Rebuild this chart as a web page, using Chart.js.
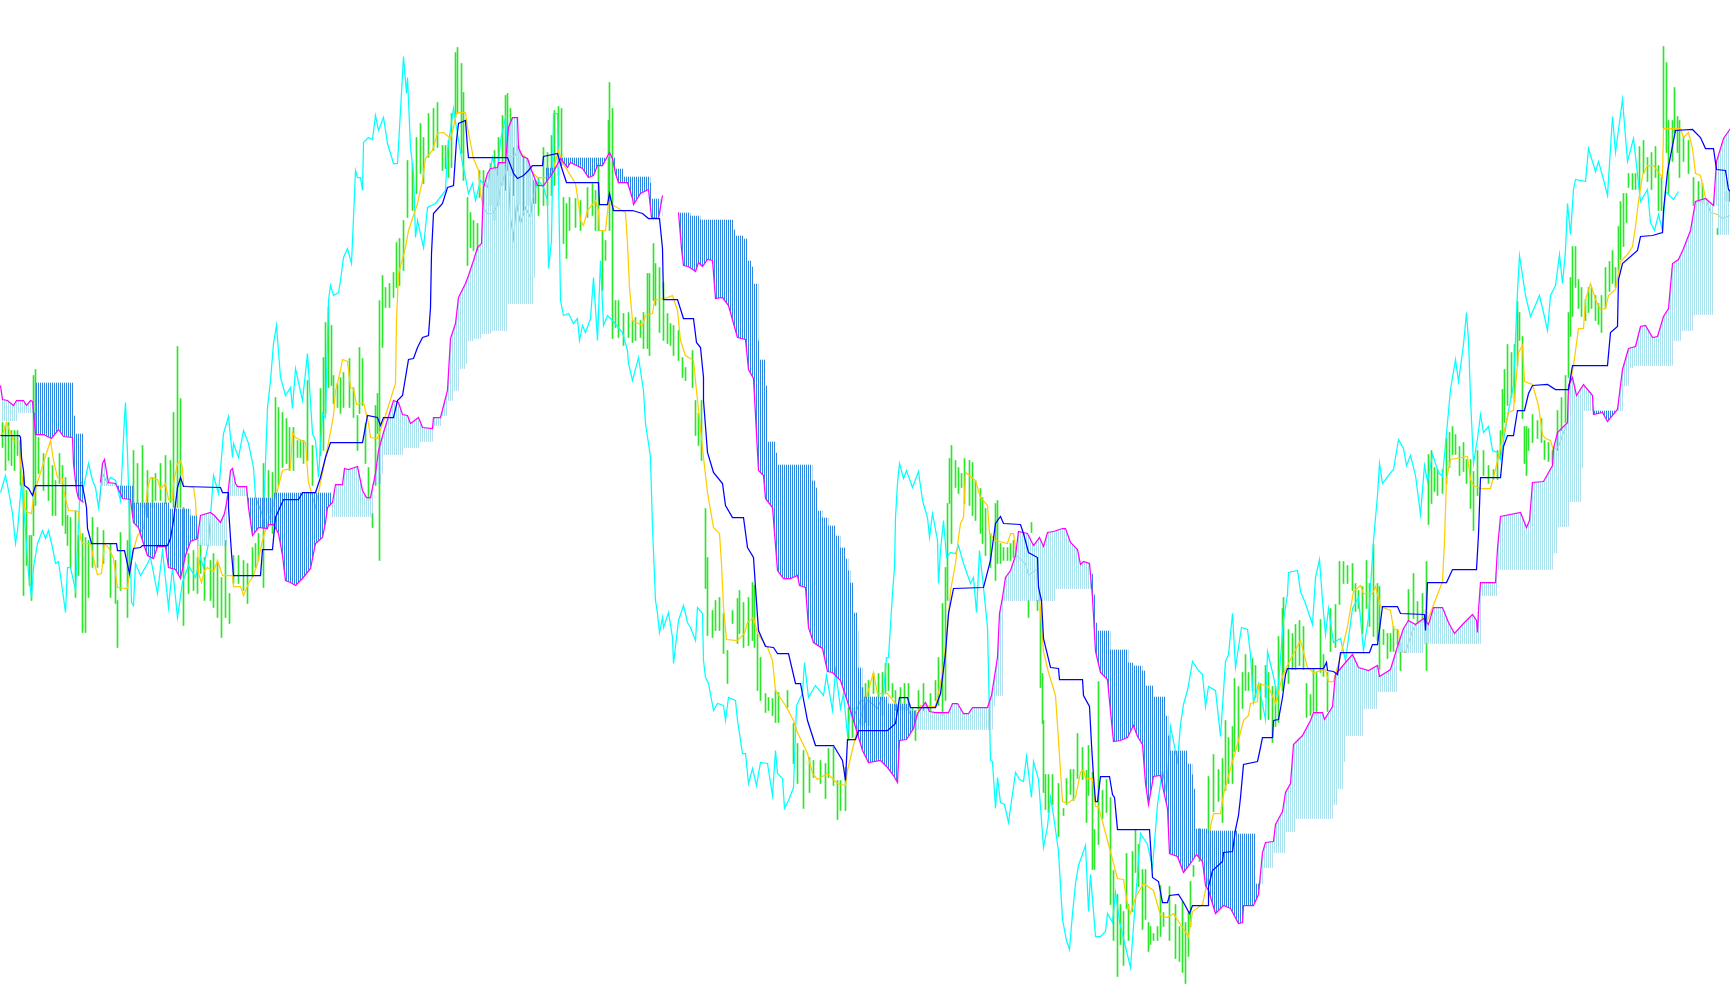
<!DOCTYPE html>
<html>
<head>
<meta charset="utf-8">
<title>Ichimoku</title>
<script src="https://cdn.jsdelivr.net/npm/chart.js"></script>
<style>
html, body { margin: 0; padding: 0; background: #fff; overflow: hidden; }
canvas { display: block; }
</style>
</head>
<body>
<canvas id="chart" width="1730" height="1005"></canvas>
<script>
// [time, value] pairs
const kijun = [[0,570],[19,570],[20,568],[21,548],[23,535],[24,520],[28,517],[32,510],[35,520],[82,520],[86,498],[87,477],[91,462],[116,462],[117,455],[124,455],[129,432],[133,457],[140,458],[142,460],[167,460],[170,467],[173,485],[177,518],[180,528],[183,519],[220,518],[222,513],[228,513],[228,498],[231,452],[233,430],[260,430],[262,456],[272,456],[275,488],[283,506],[298,506],[302,513],[315,513],[320,528],[325,548],[330,563],[362,563],[367,590],[377,588],[380,580],[383,588],[393,588],[397,605],[402,610],[408,646],[413,647],[417,658],[422,668],[428,670],[430,698],[431,752],[433,792],[442,802],[447,818],[453,820],[456,865],[458,882],[465,885],[467,858],[468,848],[507,848],[512,835],[513,832],[517,827],[523,830],[528,835],[532,840],[542,840],[543,849],[557,852],[562,835],[566,823],[598,823],[599,801],[607,801],[609,812],[613,795],[632,795],[642,792],[648,787],[659,787],[662,757],[663,706],[677,706],[683,687],[693,687],[696,663],[700,658],[703,628],[703,605],[707,553],[713,533],[722,522],[725,500],[732,488],[743,488],[747,458],[753,448],[755,418],[758,375],[765,359],[773,358],[777,352],[788,352],[795,322],[800,322],[807,285],[815,260],[833,260],[842,245],[845,225],[847,266],[855,266],[858,275],[887,275],[895,282],[899,308],[907,308],[910,298],[935,298],[940,312],[945,352],[948,392],[953,417],[983,418],[990,445],[995,482],[1000,489],[1003,482],[1020,481],[1023,472],[1028,453],[1037,448],[1038,418],[1041,405],[1043,367],[1050,338],[1058,337],[1059,326],[1082,326],[1083,310],[1089,299],[1091,261],[1093,229],[1095,204],[1097,204],[1100,229],[1109,229],[1112,211],[1114,208],[1117,176],[1149,176],[1152,128],[1158,124],[1162,103],[1167,103],[1169,110],[1178,111],[1183,103],[1189,92],[1192,100],[1208,100],[1208,119],[1212,135],[1222,144],[1223,153],[1232,154],[1235,176],[1238,190],[1240,208],[1243,241],[1257,244],[1260,258],[1262,268],[1272,268],[1273,285],[1278,286],[1282,308],[1285,331],[1287,337],[1323,337],[1326,343],[1327,335],[1333,334],[1337,331],[1340,353],[1369,353],[1372,361],[1377,361],[1382,399],[1397,399],[1400,392],[1424,391],[1425,375],[1427,423],[1446,423],[1452,436],[1476,436],[1478,471],[1480,528],[1500,528],[1503,559],[1507,570],[1513,570],[1517,595],[1524,595],[1528,612],[1532,620],[1547,621],[1555,616],[1568,616],[1572,640],[1607,640],[1610,673],[1617,679],[1618,726],[1622,742],[1637,755],[1640,769],[1652,770],[1662,773],[1663,795],[1667,834],[1675,875],[1692,876],[1700,868],[1705,857],[1713,857],[1716,836],[1725,835],[1728,816],[1730,814]];

const tenkan = [[0,570],[3,573],[6,583],[8,578],[13,565],[19,564],[20,542],[23,518],[24,498],[26,494],[31,492],[33,508],[36,520],[50,565],[53,545],[57,528],[62,527],[63,515],[68,495],[78,494],[80,467],[82,462],[90,462],[95,438],[97,431],[101,432],[104,462],[108,458],[113,447],[115,432],[117,418],[127,417],[128,425],[132,452],[137,470],[143,477],[147,517],[150,528],[157,526],[160,517],[165,522],[168,506],[172,506],[173,522],[177,542],[180,544],[182,538],[183,520],[193,518],[195,505],[197,465],[198,432],[201,423],[204,435],[207,438],[213,434],[217,445],[222,430],[232,430],[233,419],[240,419],[243,410],[248,422],[253,430],[257,442],[262,465],[275,508],[282,535],[290,537],[292,573],[295,568],[305,563],[307,535],[308,523],[315,498],[328,563],[333,590],[335,615],[340,635],[342,646],[347,644],[350,618],[353,617],[356,601],[363,603],[368,582],[370,568],[377,567],[385,590],[395,622],[396,685],[398,732],[405,758],[408,775],[413,790],[417,802],[422,825],[425,847],[432,855],[437,872],[443,873],[450,867],[453,878],[456,893],[465,893],[467,878],[473,847],[478,835],[480,812],[483,797],[487,792],[492,792],[497,800],[500,818],[505,833],[507,848],[515,850],[517,858],[520,852],[527,847],[530,835],[537,828],[547,828],[553,837],[558,855],[562,843],[575,822],[578,802],[580,785],[583,780],[587,795],[595,805],[598,795],[599,775],[605,775],[608,803],[625,793],[627,762],[629,718],[632,685],[642,680],[645,690],[652,692],[654,705],[667,708],[672,710],[677,695],[680,665],[685,650],[693,645],[696,615],[703,548],[707,513],[713,478],[719,472],[721,442],[723,398],[726,366],[737,365],[744,372],[747,383],[753,388],[757,372],[767,358],[772,345],[775,315],[785,300],[793,285],[797,273],[807,252],[812,232],[817,226],[827,232],[837,222],[845,220],[847,235],[857,277],[865,305],[873,333],[877,312],[887,312],[898,298],[907,297],[912,287],[915,285],[920,300],[935,299],[942,332],[947,378],[950,415],[955,442],[958,468],[960,482],[963,488],[965,533],[975,525],[980,508],[987,500],[989,472],[995,465],[1007,462],[1010,472],[1013,472],[1016,450],[1025,442],[1028,430],[1037,437],[1039,408],[1043,354],[1048,333],[1055,310],[1058,265],[1062,204],[1067,202],[1075,208],[1080,233],[1083,236],[1085,227],[1092,227],[1095,199],[1098,199],[1117,127],[1123,126],[1127,101],[1130,92],[1135,108],[1143,122],[1153,115],[1160,90],[1167,88],[1173,92],[1180,81],[1188,69],[1192,94],[1202,101],[1208,129],[1210,179],[1213,192],[1220,192],[1223,211],[1232,244],[1235,254],[1243,285],[1248,290],[1250,302],[1257,304],[1258,322],[1268,319],[1275,302],[1282,329],[1285,336],[1293,352],[1300,365],[1307,338],[1313,333],[1325,336],[1328,324],[1333,324],[1340,349],[1347,379],[1353,414],[1360,420],[1363,412],[1372,412],[1375,419],[1380,399],[1390,395],[1393,377],[1398,375],[1400,355],[1405,353],[1412,375],[1417,383],[1423,387],[1427,385],[1442,424],[1444,465],[1446,526],[1450,546],[1467,549],[1470,526],[1473,520],[1480,517],[1490,517],[1495,536],[1502,567],[1508,593],[1513,595],[1518,653],[1522,660],[1524,624],[1532,621],[1538,600],[1542,571],[1545,567],[1550,565],[1553,555],[1558,559],[1563,573],[1567,583],[1568,612],[1573,640],[1578,677],[1583,677],[1585,706],[1590,722],[1595,706],[1600,696],[1605,697],[1608,710],[1615,716],[1620,744],[1627,751],[1632,759],[1635,779],[1638,804],[1642,830],[1647,840],[1653,840],[1662,828],[1663,877],[1680,877],[1683,868],[1688,873],[1692,857],[1695,832],[1700,830],[1705,808],[1710,793],[1717,791],[1722,787],[1730,790]];

const chikou = [[0,513],[5,530],[8,515],[12,492],[15,462],[17,475],[21,523],[24,488],[28,432],[31,408],[33,438],[37,462],[42,475],[45,467],[48,475],[52,458],[55,442],[58,444],[62,415],[65,393],[67,438],[70,438],[75,415],[80,525],[83,518],[88,542],[92,525],[95,518],[98,498],[102,532],[107,522],[110,528],[115,525],[120,505],[124,588],[125,603],[127,552],[129,485],[131,403],[133,400],[135,442],[140,430],[147,442],[150,448],[157,412],[162,455],[168,398],[172,438],[177,388],[182,423],[188,440],[195,428],[200,448],[203,438],[208,462],[213,530],[218,512],[223,572],[228,589],[232,548],[233,562],[238,548],[243,575],[248,562],[253,538],[255,508],[263,488],[267,598],[270,625],[273,662],[276,680],[280,628],[285,610],[290,618],[292,597],[295,637],[302,605],[307,652],[312,572],[315,565],[318,528],[322,592],[325,588],[328,705],[330,720],[333,710],[338,713],[340,725],[343,748],[347,757],[351,742],[353,788],[355,835],[357,828],[360,828],[362,815],[363,863],[368,868],[372,866],[375,890],[378,875],[383,888],[387,862],[393,842],[397,842],[400,895],[403,949],[406,912],[407,928],[410,858],[413,832],[415,768],[417,785],[423,758],[427,798],[435,802],[445,815],[447,855],[453,897],[458,865],[462,842],[465,828],[468,812],[472,822],[475,805],[480,825],[487,818],[492,848],[497,832],[500,865],[505,888],[507,852],[510,788],[513,767],[516,802],[520,782],[525,798],[530,788],[532,807],[536,820],[538,825],[543,818],[547,805],[548,737],[551,765],[553,892],[557,892],[560,705],[563,690],[568,692],[573,682],[577,687],[579,665],[582,680],[585,673],[590,687],[593,728],[597,665],[600,745],[603,680],[607,690],[612,685],[622,673],[627,655],[628,642],[632,625],[638,648],[643,615],[645,582],[648,562],[650,548],[652,478],[655,405],[657,392],[659,373],[662,388],[663,378],[668,393],[672,368],[673,342],[678,385],[683,400],[687,383],[690,378],[695,365],[697,398],[702,392],[703,345],[705,328],[708,322],[713,295],[717,302],[723,300],[725,285],[728,308],[735,305],[737,285],[742,252],[745,252],[748,222],[752,237],[756,220],[760,243],[767,242],[772,210],[775,255],[777,232],[782,227],[784,197],[788,205],[793,218],[796,300],[802,312],[804,343],[808,308],[815,320],[823,310],[826,330],[832,295],[835,335],[840,297],[843,312],[847,270],[850,295],[853,288],[860,305],[868,305],[877,297],[883,312],[886,348],[888,348],[892,412],[894,438],[895,488],[897,522],[899,542],[903,527],[906,535],[912,518],[918,534],[922,505],[927,488],[929,468],[932,492],[937,465],[938,422],[940,455],[943,485],[946,448],[950,453],[955,452],[958,460],[963,442],[970,422],[973,428],[976,393],[979,455],[983,418],[987,378],[990,245],[992,244],[995,197],[997,228],[1000,203],[1004,201],[1008,183],[1015,233],[1019,226],[1023,224],[1026,249],[1031,208],[1033,244],[1038,226],[1043,158],[1047,179],[1050,208],[1053,190],[1058,154],[1062,86],[1066,65],[1069,56],[1072,92],[1075,122],[1078,140],[1085,160],[1088,94],[1090,131],[1095,69],[1100,69],[1105,74],[1107,92],[1112,83],[1115,113],[1119,84],[1123,67],[1130,38],[1133,79],[1140,172],[1147,161],[1152,138],[1157,201],[1162,235],[1166,213],[1170,279],[1177,244],[1180,281],[1183,301],[1187,315],[1192,344],[1198,335],[1202,331],[1205,299],[1208,319],[1215,315],[1220,269],[1225,344],[1228,351],[1232,392],[1235,338],[1241,378],[1247,376],[1250,351],[1253,303],[1258,322],[1265,286],[1267,354],[1273,329],[1277,308],[1283,386],[1287,411],[1288,433],[1297,435],[1300,414],[1305,402],[1312,381],[1315,428],[1319,446],[1322,405],[1325,371],[1328,397],[1333,363],[1340,367],[1345,345],[1352,397],[1358,408],[1363,355],[1368,388],[1373,465],[1377,510],[1379,542],[1382,522],[1388,530],[1393,536],[1398,566],[1403,557],[1406,540],[1410,550],[1415,530],[1420,491],[1424,540],[1427,524],[1432,551],[1438,533],[1442,529],[1447,583],[1450,616],[1455,646],[1458,624],[1463,661],[1466,693],[1468,665],[1470,608],[1473,542],[1477,567],[1480,591],[1483,573],[1488,579],[1492,555],[1497,553],[1500,546],[1508,595],[1513,620],[1517,714],[1519,750],[1525,710],[1530,689],[1539,710],[1543,693],[1547,675],[1550,710],[1555,720],[1559,751],[1562,722],[1565,755],[1567,802],[1570,771],[1573,816],[1575,826],[1585,824],[1588,857],[1595,834],[1598,844],[1603,826],[1607,810],[1612,889],[1615,853],[1622,906],[1627,844],[1633,867],[1640,804],[1647,816],[1650,783],[1654,775],[1658,791],[1662,775],[1665,814],[1673,806],[1678,814]];

const senkouB = [[0,620],[2,606],[7,605],[13,600],[16,605],[23,605],[26,600],[30,605],[32,604],[33,593],[35,571],[43,571],[51,567],[58,576],[63,569],[72,568],[73,542],[76,515],[78,507],[83,503],[84,null],[100,523],[102,542],[104,546],[107,528],[108,523],[115,522],[120,512],[122,507],[130,506],[133,483],[138,478],[142,465],[147,450],[153,447],[157,459],[165,459],[168,438],[175,436],[180,427],[185,450],[190,464],[197,467],[200,490],[210,493],[214,490],[220,483],[224,492],[227,508],[230,535],[232,537],[235,522],[237,519],[246,519],[248,498],[252,470],[258,478],[267,477],[268,481],[273,481],[278,472],[282,450],[285,425],[290,423],[295,420],[302,427],[310,437],[315,462],[322,468],[325,483],[327,498],[332,503],[335,521],[342,521],[344,537],[348,536],[357,539],[362,515],[366,508],[370,508],[375,532],[378,555],[383,573],[393,605],[398,603],[402,591],[407,590],[410,582],[418,588],[422,578],[432,577],[433,588],[440,588],[447,615],[450,667],[455,682],[458,708],[465,722],[468,730],[473,745],[477,758],[481,762],[483,818],[487,832],[490,837],[497,838],[498,843],[505,843],[508,878],[512,888],[517,888],[518,858],[522,849],[527,847],[530,838],[537,820],[543,820],[552,832],[560,847],[567,838],[570,843],[582,837],[588,828],[593,830],[597,840],[602,840],[609,853],[612,847],[615,832],[618,823],[627,823],[632,807],[633,801],[640,812],[648,816],[651,788],[658,787],[662,810],[664,null],[678,793],[681,757],[683,740],[688,739],[695,734],[698,743],[702,739],[707,746],[712,745],[715,707],[722,708],[728,700],[735,675],[737,668],[745,666],[748,636],[753,627],[758,535],[763,530],[765,507],[772,498],[777,435],[783,427],[790,427],[797,430],[799,420],[805,418],[808,378],[813,363],[822,357],[827,334],[832,333],[840,325],[845,310],[853,285],[862,255],[868,243],[880,245],[887,238],[893,230],[897,223],[899,265],[906,266],[913,277],[917,292],[925,303],[929,294],[935,293],[948,293],[952,302],[957,302],[963,292],[968,292],[972,298],[987,298],[991,310],[997,348],[999,392],[1002,408],[1005,428],[1010,435],[1015,450],[1018,474],[1027,472],[1033,460],[1039,468],[1043,459],[1047,473],[1053,474],[1062,477],[1065,477],[1070,463],[1077,456],[1080,441],[1083,444],[1089,442],[1092,408],[1095,354],[1100,333],[1107,326],[1110,294],[1113,264],[1120,265],[1127,268],[1133,280],[1137,269],[1142,261],[1145,222],[1148,201],[1153,229],[1160,230],[1163,215],[1167,197],[1169,152],[1177,149],[1183,133],[1190,142],[1196,151],[1202,144],[1205,120],[1208,115],[1215,92],[1223,100],[1230,97],[1238,82],[1242,83],[1243,100],[1253,100],[1258,111],[1262,153],[1265,163],[1273,164],[1275,181],[1282,194],[1285,213],[1290,222],[1293,261],[1302,270],[1310,285],[1313,293],[1322,293],[1324,286],[1332,299],[1335,331],[1345,343],[1352,351],[1358,338],[1368,335],[1377,340],[1379,329],[1390,336],[1397,359],[1403,377],[1408,385],[1415,381],[1423,387],[1428,381],[1433,398],[1442,398],[1448,383],[1454,372],[1463,382],[1472,391],[1476,385],[1477,373],[1478,395],[1480,423],[1495,423],[1497,457],[1500,489],[1520,493],[1526,478],[1529,485],[1532,523],[1543,524],[1552,540],[1553,557],[1557,573],[1567,583],[1568,620],[1572,628],[1576,610],[1583,621],[1592,610],[1593,591],[1602,593],[1607,584],[1617,596],[1622,636],[1628,657],[1635,659],[1640,679],[1645,680],[1652,668],[1657,669],[1663,689],[1668,697],[1672,742],[1678,746],[1683,757],[1690,775],[1695,804],[1705,807],[1713,800],[1716,844],[1723,867],[1730,877]];

const senkouA = [[0,585],[17,593],[35,623],[73,590],[75,572],[84,565],[87,520],[133,503],[169,497],[190,490],[197,460],[226,510],[247,508],[273,513],[331,489],[372,522],[380,532],[382,551],[402,558],[419,564],[432,580],[441,590],[447,605],[452,615],[458,637],[465,642],[467,665],[473,667],[480,672],[490,675],[507,702],[533,728],[535,820],[545,838],[560,848],[610,848],[615,837],[623,829],[650,823],[651,807],[660,793],[690,790],[700,786],[733,776],[735,770],[743,767],[747,745],[751,739],[753,722],[758,665],[759,646],[765,620],[767,564],[775,553],[777,541],[812,525],[815,518],[817,495],[822,488],[828,480],[835,470],[840,458],[845,447],[848,435],[850,423],[853,393],[857,375],[858,338],[862,318],[863,309],[888,302],[910,295],[915,276],[992,300],[995,310],[1002,405],[1055,417],[1091,432],[1093,411],[1095,383],[1097,375],[1110,356],[1128,343],[1133,340],[1142,335],[1145,320],[1153,309],[1165,290],[1168,270],[1170,255],[1187,242],[1192,231],[1193,217],[1195,177],[1208,175],[1237,172],[1255,122],[1263,138],[1272,153],[1285,174],[1295,187],[1332,201],[1337,217],[1343,244],[1345,270],[1362,297],[1377,314],[1396,353],[1423,362],[1480,410],[1497,436],[1552,453],[1557,479],[1568,504],[1581,538],[1583,595],[1618,595],[1623,620],[1628,638],[1633,640],[1672,665],[1680,675],[1692,691],[1713,800],[1717,771],[1730,790]];

// [time, high, low]
const priceBars = [[2,583,558],[5,580,535],[8,583,545],[11,575,540],[14,575,535],[17,575,550],[20,565,520],[23,528,410],[26,515,440],[29,470,420],[31,470,405],[33,630,470],[35,636,500],[38,568,532],[43,552,515],[48,548,505],[52,540,490],[55,525,490],[59,552,522],[62,540,480],[65,528,472],[67,490,460],[70,488,438],[75,495,408],[78,470,430],[82,472,373],[85,468,373],[88,465,408],[92,488,438],[97,478,438],[103,475,442],[110,462,408],[115,445,402],[117,405,358],[120,473,415],[127,465,388],[129,505,428],[133,555,488],[137,542,502],[142,560,498],[147,535,488],[152,528,498],[155,532,505],[160,542,505],[165,550,502],[170,545,503],[173,593,498],[177,659,498],[180,607,498],[183,498,380],[188,452,412],[193,455,415],[197,448,412],[200,462,432],[204,448,405],[210,445,405],[213,452,398],[217,442,388],[221,428,368],[225,465,388],[229,412,382],[233,450,422],[238,450,422],[243,445,415],[247,442,402],[252,458,428],[255,462,438],[258,472,445],[263,542,418],[268,535,492],[272,533,472],[275,608,508],[278,598,520],[282,593,538],[286,587,542],[289,578,535],[293,578,535],[297,565,548],[300,565,548],[303,565,542],[307,625,545],[312,560,520],[320,617,550],[323,648,555],[325,683,592],[328,698,618],[331,680,620],[333,630,602],[337,622,598],[340,628,592],[343,633,598],[349,647,598],[353,618,588],[357,590,555],[359,658,592],[362,647,600],[365,582,542],[368,538,505],[372,492,478],[375,600,520],[377,612,572],[379,705,445],[382,730,658],[385,718,698],[389,722,698],[393,733,708],[396,763,718],[399,767,720],[403,785,735],[407,845,788],[412,842,795],[416,868,812],[420,882,832],[423,868,822],[428,892,848],[433,897,855],[437,903,858],[442,860,835],[445,860,837],[448,865,828],[451,892,838],[455,953,888],[457,958,892],[461,942,852],[463,913,825],[467,808,740],[470,793,758],[473,785,755],[477,782,755],[479,835,808],[483,835,800],[490,842,800],[494,855,785],[498,868,800],[502,890,820],[505,910,815],[507,912,835],[510,897,830],[513,858,810],[518,860,800],[523,850,795],[528,845,800],[533,825,802],[535,825,802],[538,828,790],[543,858,800],[547,853,800],[551,870,810],[554,895,820],[558,899,830],[561,897,840],[563,808,762],[566,802,747],[569,808,775],[575,807,778],[580,805,775],[587,818,788],[592,822,790],[595,815,775],[598,842,775],[602,775,715],[605,765,745],[608,885,805],[609,923,775],[612,897,667],[615,705,678],[618,705,668],[623,692,660],[628,693,668],[632,685,663],[635,688,665],[640,685,668],[643,693,657],[647,732,657],[649,732,650],[653,762,705],[655,742,700],[659,738,673],[663,723,665],[667,692,662],[670,682,660],[673,680,650],[678,675,645],[682,648,628],[685,638,625],[692,655,618],[695,605,570],[698,592,560],[701,605,545],[705,497,417],[707,448,370],[712,395,368],[715,405,375],[719,408,375],[723,392,352],[727,355,322],[732,395,382],[737,407,362],[739,415,372],[743,403,358],[748,408,360],[752,423,365],[754,420,358],[757,372,315],[760,348,305],[765,312,293],[768,308,295],[772,307,290],[775,315,283],[778,313,283],[787,315,298],[793,282,242],[797,262,222],[803,255,197],[809,248,213],[813,245,228],[820,245,222],[825,242,207],[828,257,228],[833,258,220],[837,225,186],[840,225,195],[845,238,195],[848,298,265],[852,298,268],[862,318,280],[865,322,283],[868,325,280],[873,332,312],[878,332,308],[882,333,290],[885,342,313],[888,342,315],[892,322,308],[895,315,295],[900,318,295],[904,322,295],[908,322,295],[912,298,275],[915,295,265],[918,315,295],[923,322,295],[930,312,295],[935,325,305],[938,348,300],[942,402,290],[945,438,305],[947,502,405],[949,547,502],[951,560,462],[955,545,518],[958,538,512],[961,532,518],[964,547,502],[969,545,500],[972,543,490],[975,525,485],[980,517,472],[982,508,462],[985,497,450],[990,472,438],[995,502,425],[997,505,442],[1000,462,442],[1003,458,445],[1007,458,445],[1010,462,445],[1013,465,448],[1028,405,388],[1031,483,473],[1037,405,395],[1040,398,318],[1042,332,282],[1043,285,213],[1045,231,196],[1048,231,193],[1052,231,201],[1058,222,169],[1063,197,190],[1066,227,201],[1070,236,211],[1073,236,205],[1077,272,227],[1082,258,226],[1086,235,183],[1088,260,210],[1092,233,136],[1094,176,136],[1098,324,161],[1102,215,187],[1106,226,193],[1110,208,101],[1113,135,65],[1117,111,29],[1120,101,61],[1123,94,40],[1126,152,97],[1128,101,65],[1132,154,94],[1135,176,133],[1138,161,119],[1142,136,76],[1145,136,86],[1148,83,54],[1150,79,61],[1153,72,65],[1157,79,65],[1160,120,69],[1163,93,79],[1169,119,65],[1175,101,47],[1179,79,44],[1182,104,33],[1185,83,22],[1188,94,49],[1190,124,79],[1193,140,129],[1199,177,144],[1208,229,172],[1213,251,194],[1218,236,204],[1222,247,183],[1225,285,215],[1228,268,222],[1232,279,222],[1234,327,254],[1238,319,254],[1242,333,297],[1245,351,315],[1248,333,315],[1252,347,315],[1255,340,308],[1260,322,286],[1265,340,308],[1268,333,286],[1272,319,263],[1275,319,279],[1278,369,283],[1282,397,315],[1283,408,333],[1288,376,322],[1292,372,336],[1295,381,336],[1299,385,340],[1303,379,336],[1306,322,288],[1310,311,290],[1313,336,294],[1316,333,290],[1320,386,333],[1323,351,329],[1327,333,294],[1330,397,354],[1335,401,358],[1339,444,401],[1343,444,422],[1347,440,422],[1352,442,415],[1355,422,394],[1358,415,397],[1362,419,372],[1366,445,397],[1369,422,379],[1373,461,369],[1377,422,365],[1379,419,336],[1383,376,361],[1387,372,347],[1390,372,354],[1393,379,354],[1397,376,361],[1400,363,335],[1408,416,383],[1413,432,387],[1417,404,383],[1422,412,383],[1426,444,335],[1428,551,481],[1431,555,502],[1434,538,514],[1437,536,510],[1442,536,512],[1446,567,522],[1449,573,538],[1452,579,551],[1455,571,551],[1459,559,530],[1463,563,534],[1466,546,522],[1470,546,497],[1473,534,475],[1477,555,510],[1483,555,530],[1488,540,522],[1493,536,526],[1497,555,526],[1500,575,546],[1502,616,567],[1504,636,583],[1507,661,600],[1511,653,608],[1514,661,604],[1517,704,640],[1519,693,665],[1522,669,587],[1524,579,542],[1526,579,530],[1528,577,555],[1532,591,563],[1537,585,567],[1541,587,563],[1544,565,546],[1548,563,544],[1552,555,542],[1557,595,555],[1561,608,575],[1565,630,583],[1568,693,628],[1570,728,669],[1572,759,689],[1575,759,718],[1578,726,697],[1581,718,689],[1585,706,685],[1588,718,693],[1591,718,697],[1595,710,685],[1598,702,681],[1601,710,673],[1605,738,697],[1609,744,714],[1612,755,722],[1615,738,718],[1618,779,734],[1620,804,746],[1623,812,759],[1626,812,783],[1628,832,818],[1632,832,816],[1635,832,816],[1639,859,816],[1643,865,832],[1647,848,824],[1651,853,816],[1655,859,828],[1658,840,795],[1661,828,795],[1663,959,877],[1666,943,853],[1668,885,812],[1672,885,844],[1674,918,873],[1677,889,853],[1679,885,828],[1683,869,844],[1688,865,832],[1693,828,800],[1698,824,803],[1702,822,802],[1717,777,771],[1726,814,804],[1729,814,804]];

const toXY = rows => rows.map(r => ({ x: r[0], y: r[1] }));

// vertical hatch used for the cloud, one column on, one off
function hatch(color) {
    const tile = document.createElement('canvas');
    tile.width = 2;
    tile.height = 2;
    const t = tile.getContext('2d');
    t.fillStyle = color;
    t.fillRect(0, 0, 1, 2);
    return t.createPattern(tile, 'repeat');
}

function lineSet(label, rows, color, order) {
    return {
        type: 'line',
        label: label,
        data: toXY(rows),
        borderColor: color,
        borderWidth: 1.25,
        pointRadius: 0,
        tension: 0,
        fill: false,
        order: order
    };
}

const ctx = document.getElementById('chart').getContext('2d');

const cloudEdge = lineSet('Senkou A', senkouA, 'rgba(0,0,0,0)', 6);
cloudEdge.stepped = true;
cloudEdge.borderWidth = 0;

const cloudLine = lineSet('Senkou B', senkouB, '#ff00ff', 1);
cloudLine.fill = { target: 0, above: hatch('#a8e2ec'), below: hatch('#2a86e0') };

new Chart(ctx, {
    data: {
        datasets: [
            cloudEdge,
            cloudLine,
            {
                type: 'bar',
                label: 'Price',
                data: priceBars.map(r => ({ x: r[0], y: [r[2], r[1]] })),
                backgroundColor: '#2ce62c',
                barThickness: 1,
                order: 5
            },
            lineSet('Chikou', chikou, '#00ffff', 4),
            lineSet('Tenkan', tenkan, '#ffcc00', 3),
            lineSet('Kijun', kijun, '#0000ff', 0)
        ]
    },
    options: {
        responsive: false,
        animation: false,
        parsing: true,
        layout: { padding: 0 },
        scales: {
            x: { type: 'linear', min: -0.5, max: 1729.5, offset: false, display: false },
            y: { type: 'linear', min: 0.5, max: 1005.5, display: false }
        },
        plugins: {
            legend: { display: false },
            tooltip: { enabled: false }
        }
    }
});
</script>
</body>
</html>
